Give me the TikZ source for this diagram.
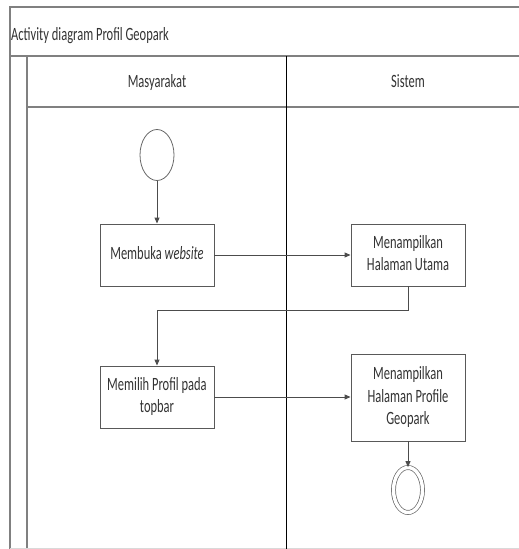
\documentclass[tikz,border=0pt]{standalone}
\usepackage{fontspec}
\usepackage{graphicx}
\setmainfont{Carlito}
\usetikzlibrary{positioning,shapes.geometric,arrows.meta}

\newcommand{\tinggi}[1]{\scalebox{1}[1.5]{\begin{tabular}{@{}c@{}}#1\end{tabular}}}

\tikzset{
	aksi/.style={draw=black!65, line width=0.9pt, minimum width=114pt, minimum height=62pt,
		inner sep=2pt, align=center, text=black!80, font=\fontsize{12.5}{15}\selectfont},
	tulisan/.style={text=black!80, inner sep=1pt, font=\fontsize{12.5}{15}\selectfont},
	panah/.style={draw=black!70, line width=0.9pt, -{Triangle[length=6pt,width=5pt]}},
	bingkai/.style={draw=black!50, line width=1.4pt}
}

\begin{document}
\begin{tikzpicture}[x=1pt,y=-1pt]
	\useasboundingbox (0,0) rectangle (519,549);

% bingkai swimlane
	\draw[bingkai] (10,549) -- (10,7) -- (519,7);
	\draw[bingkai] (10,56) -- (519,56);
	\draw[bingkai] (27,56) -- (27,549);
	\draw[bingkai] (27,107) -- (519,107);
	\draw[black!15, line width=0.8pt] (10,548) -- (519,548);
	\draw[black, line width=0.9pt] (286,56) -- (286,549);

% judul dan lajur
	\node[tulisan, anchor=west] (judul) at (10,36) {\tinggi{Activity diagram Profil Geopark}};
	\node[tulisan] (masyarakat) at (157,83) {\tinggi{Masyarakat}};
	\node[tulisan] (sistem) at (408,83) {\tinggi{Sistem}};

% aktivitas
	\node[draw=black!60, line width=0.8pt, ellipse, minimum width=34pt, minimum height=51pt] (mulai) at (157,155) {};
	\node[aksi] (membuka) at (157,255) {\tinggi{Membuka \textit{website}}};
	\node[aksi] (utama) at (408,255) {\tinggi{Menampilkan\\Halaman Utama}};
	\node[aksi] (memilih) at (157,397) {\tinggi{Memilih Profil pada\\topbar}};
	\node[aksi, minimum height=87pt] (profil) at (408,397.5) {\tinggi{Menampilkan\\Halaman Profile\\Geopark}};
	\node[draw=black!60, line width=0.7pt, double=white, double distance=3.4pt, ellipse,
		minimum width=29pt, minimum height=45pt] (akhir) at (408,490) {};

% alur
	\draw[panah] (mulai) -- (membuka);
	\draw[panah] (membuka) -- (utama);
	\draw[panah] (utama.south) -- ++(0,24) -| (memilih.north);
	\draw[panah] (memilih.east) -- (memilih.east -| profil.west);
	\draw[panah] (profil) -- (akhir);
\end{tikzpicture}
\end{document}
